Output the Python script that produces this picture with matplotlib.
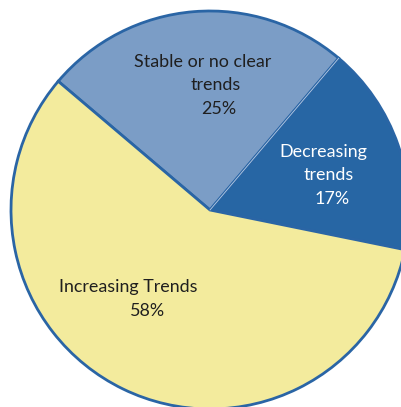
import numpy as np
import matplotlib.pyplot as plt

# datos del gráfico
categorias = ['Stable or no clear\ntrends', 'Decreasing\ntrends', 'Increasing Trends']
porcentajes = [25, 17, 58]
colores = ['#7B9DC6', '#2766A4', '#F3EB9D']
color_borde = '#2A65A5'

plt.rcParams['font.family'] = ['Lato', 'DejaVu Sans']

fig = plt.figure(figsize=(4.01, 4.07), dpi=100)
ax = fig.add_axes([11 / 401, (407 - 409) / 407, 398 / 401, 398 / 407])

inicio = 139.7
wedges, _ = ax.pie(porcentajes, colors=colores, startangle=inicio, counterclock=False,
                   wedgeprops=dict(edgecolor=color_borde, linewidth=2.0))

# línea clara entre "Stable" y "Decreasing"
ang = np.deg2rad(inicio - porcentajes[0] / 100 * 360)
ax.plot([0, np.cos(ang)], [0, np.sin(ang)], color='#B8CCE4', linewidth=0.6, zorder=5)

ax.set_xlim(-1, 1)
ax.set_ylim(-1, 1)
ax.set_aspect('auto')
ax.axis('off')

def px(x, y):
    return (x - 211) / 199, (210 - y) / 199

# etiquetas, línea a línea
etiquetas = [
    ('Stable or no clear', 204, 62, '#1F1F1F'),
    ('trends', 217, 85, '#1F1F1F'),
    (f'{porcentajes[0]}%', 220, 109, '#1F1F1F'),
    ('Decreasing', 324, 152, 'white'),
    ('trends', 330, 175, 'white'),
    (f'{porcentajes[1]}%', 333, 199, 'white'),
    ('Increasing Trends', 129, 287, '#1F1F1F'),
    (f'{porcentajes[2]}%', 148, 311, '#1F1F1F'),
]
for texto, x, y, c in etiquetas:
    xx, yy = px(x, y)
    ax.text(xx, yy, texto, ha='center', va='center', fontsize=12.9, color=c)

fig.savefig('out.png', dpi=100)
